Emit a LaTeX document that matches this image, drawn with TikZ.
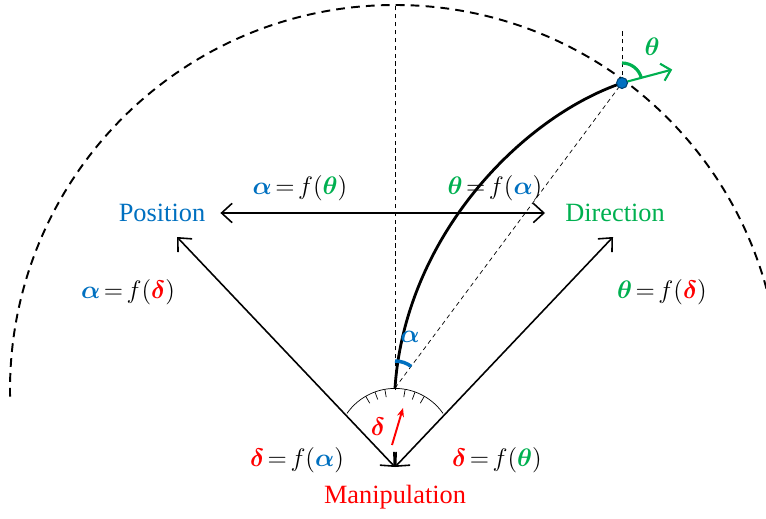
\documentclass[tikz,border=0pt]{standalone}
\usepackage{fontspec}
\setmainfont{Liberation Serif}
\usepackage{amsmath}
\usetikzlibrary{arrows.meta}

\definecolor{posblue}{RGB}{0,112,192}
\definecolor{dirgreen}{RGB}{0,176,80}
\definecolor{manred}{RGB}{255,0,0}

\newcommand{\va}{{\color{posblue}\boldsymbol{\alpha}}}
\newcommand{\vt}{{\color{dirgreen}\boldsymbol{\theta}}}
\newcommand{\vd}{{\color{manred}\boldsymbol{\delta}}}
\newcommand{\relfont}{\fontsize{14}{16}\selectfont\thickmuskip=2.5mu\relax}

\tikzset{
    link/.style={line width=0.9pt, {Straight Barb[length=6pt,width=11pt]}-{Straight Barb[length=6pt,width=11pt]}},
    rel/.style={font=\relfont},
}

\begin{document}
\begin{tikzpicture}[x=0.02cm, y=0.02cm, font=\fontsize{15}{18}\selectfont]
            \useasboundingbox (0,0) rectangle (766,518);
            \clip (0,0) rectangle (766,518);
            \coordinate (C) at (395,128);
            \coordinate (B) at (395,130);
            \coordinate (D) at (622,435);
            \coordinate (P) at (395,71);
            \coordinate (M) at (395,51);
            \coordinate (posB) at (177,281);
            \coordinate (dirB) at (613,281);
            
            % reach of the hand
            \draw[line width=1.1pt, dash pattern=on 5pt off 3.5pt] (C) ++(181:385) arc (181:8:385);
            \draw[thin, dash pattern=on 2.5pt off 2pt] (C) -- (395,513);
            \draw[thin, dash pattern=on 2.5pt off 2pt] (B) -- (D);
            \draw[thin, dash pattern=on 2.5pt off 2pt] (D) -- (622,490);
            
            % trajectory
            \draw[line width=1.6pt] (B) .. controls (405,280) and (520,400) .. (D);
            \draw[line width=2pt, posblue] (B) ++(90:27) arc (90:53:27);
            \node[posblue, rel] (alab) at (410,181) {$\boldsymbol{\alpha}$};
            \draw[line width=1.8pt, dirgreen] (D) ++(90:20) arc (90:15:20);
            \draw[line width=1.2pt, dirgreen, -{Straight Barb[length=5pt,width=10pt]}] (D) -- ++(15:52);
            \node[dirgreen, rel] (tlab) at (652,471) {$\boldsymbol{\theta}$};
            \fill[posblue, draw=posblue!60!black, line width=0.6pt] (D) circle (5.5);
            
            % dial
            \draw[thin] (P) ++(145:58.6) arc (145:35:58.6);
            \foreach \a in {60,70,80,100,110,120}
                \draw[thin] (P) ++(\a:58.6) -- ++(\a+180:8);
            \draw[line width=1.1pt, manred, -{Stealth[length=5pt,width=4pt]}] (392,73) -- (403,110);
            \node[manred, rel] (dlab) at (378,91) {$\boldsymbol{\delta}$};
            
            % mappings
            \node[posblue] (pos) at (162,305) {Position};
            \node[dirgreen] (dir) at (615,305) {Direction};
            \node[manred] (man) at (395,21) {Manipulation};
            \draw[link] (pos.east) ++(9,0) coordinate (posE) -- (dir.west -| 545,0) coordinate (dirW);
            \draw[link] (posB) -- (M);
            \draw[link] (dirB) -- (M);
            
            \node[rel] (atheta) at (300,330) {$\va=f(\vt)$};
            \node[rel] (thetaa) at (495,330) {$\vt=f(\va)$};
            \node[rel] (adelta) at (128,226) {$\va=f(\vd)$};
            \node[rel] (tdelta) at (662,226) {$\vt=f(\vd)$};
            \node[rel] (dalpha) at (297,58) {$\vd=f(\va)$};
            \node[rel] (dtheta) at (497,58) {$\vd=f(\vt)$};
        \end{tikzpicture}
\end{document}
